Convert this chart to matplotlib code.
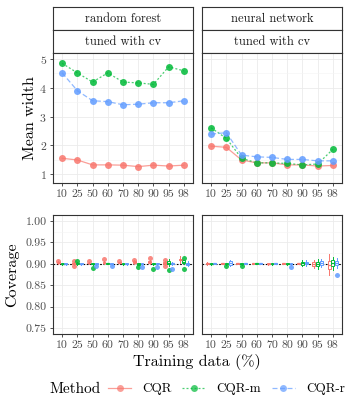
import matplotlib
matplotlib.use("Agg")
import matplotlib.pyplot as plt
from matplotlib.lines import Line2D
import numpy as np

plt.rcParams['font.family'] = ['cmr10', 'DejaVu Serif']
plt.rcParams['mathtext.fontset'] = 'cm'
plt.rcParams['axes.formatter.use_mathtext'] = True

train_pct = ["10", "25", "50", "60", "70", "80", "90", "95", "98"]
methods = ["CQR", "CQR-m", "CQR-r"]
models = ["random forest", "neural network"]
colors = ["#F8766D", "#00BA38", "#619CFF"]

# mean width, random forest
rf_width_cqr = [1.55, 1.49, 1.32, 1.32, 1.31, 1.26, 1.31, 1.28, 1.31]
rf_width_cqrm = [4.85, 4.52, 4.20, 4.52, 4.20, 4.17, 4.12, 4.73, 4.59]
rf_width_cqrr = [4.52, 3.90, 3.55, 3.52, 3.41, 3.43, 3.48, 3.48, 3.55]
# mean width, neural network
nn_width_cqr = [1.97, 1.93, 1.49, 1.39, 1.39, 1.32, 1.32, 1.28, 1.30]
nn_width_cqrm = [2.61, 2.24, 1.55, 1.39, 1.39, 1.37, 1.32, 1.35, 1.86]
nn_width_cqrr = [2.39, 2.44, 1.66, 1.60, 1.58, 1.51, 1.51, 1.46, 1.46]

# coverage box summaries: median, half box height, half whisker length, outliers
rf_cqr_med = [0.903, 0.901, 0.902, 0.903, 0.903, 0.904, 0.904, 0.902, 0.910]
rf_cqr_box = [0.001, 0.002, 0.001, 0.001, 0.001, 0.002, 0.002, 0.002, 0.002]
rf_cqr_whisk = [0.003, 0.004, 0.003, 0.003, 0.002, 0.004, 0.004, 0.004, 0.008]
rf_cqr_out = [[0.907], [0.907, 0.894], [0.906], [0.912], [0.906], [0.910],
              [0.914], [0.908, 0.896], []]
rf_cqrm_med = [0.900, 0.901, 0.900, 0.901, 0.900, 0.900, 0.900, 0.903, 0.905]
rf_cqrm_box = [0.001, 0.002, 0.001, 0.001, 0.001, 0.002, 0.001, 0.004, 0.003]
rf_cqrm_whisk = [0.002, 0.003, 0.002, 0.002, 0.003, 0.003, 0.002, 0.008, 0.005]
rf_cqrm_out = [[], [0.907], [0.890], [], [], [0.893], [0.889], [0.886],
               [0.913, 0.887]]
rf_cqrr_med = [0.900, 0.900, 0.900, 0.900, 0.900, 0.900, 0.900, 0.901, 0.900]
rf_cqrr_box = [0.001, 0.001, 0.001, 0.001, 0.001, 0.001, 0.001, 0.002, 0.003]
rf_cqrr_whisk = [0.002, 0.002, 0.002, 0.002, 0.002, 0.002, 0.002, 0.004, 0.006]
rf_cqrr_out = [[], [], [0.895], [0.895], [], [0.892], [0.892], [0.888], []]

nn_cqr_med = [0.901, 0.901, 0.901, 0.901, 0.900, 0.901, 0.901, 0.900, 0.898]
nn_cqr_box = [0.001, 0.001, 0.001, 0.001, 0.001, 0.001, 0.001, 0.0047, 0.009]
nn_cqr_whisk = [0.003, 0.002, 0.002, 0.002, 0.002, 0.002, 0.002, 0.0093, 0.024]
nn_cqr_out = [[], [], [], [], [], [], [], [], []]
nn_cqrm_med = [0.900, 0.900, 0.900, 0.901, 0.900, 0.900, 0.901, 0.900, 0.901]
nn_cqrm_box = [0.001, 0.001, 0.001, 0.001, 0.001, 0.001, 0.003, 0.0047, 0.007]
nn_cqrm_whisk = [0.002, 0.002, 0.002, 0.002, 0.002, 0.002, 0.007, 0.012, 0.016]
nn_cqrm_out = [[], [0.894], [0.894], [], [], [], [], [], []]
nn_cqrr_med = [0.901, 0.902, 0.901, 0.901, 0.901, 0.900, 0.902, 0.901, 0.902]
nn_cqrr_box = [0.001, 0.004, 0.001, 0.001, 0.001, 0.001, 0.002, 0.0047, 0.0047]
nn_cqrr_whisk = [0.002, 0.006, 0.002, 0.002, 0.002, 0.002, 0.007, 0.0093, 0.012]
nn_cqrr_out = [[], [], [], [], [], [0.892], [], [], [0.875]]

widths = [[rf_width_cqr, rf_width_cqrm, rf_width_cqrr],
          [nn_width_cqr, nn_width_cqrm, nn_width_cqrr]]
coverage = [
    [(rf_cqr_med, rf_cqr_box, rf_cqr_whisk, rf_cqr_out),
     (rf_cqrm_med, rf_cqrm_box, rf_cqrm_whisk, rf_cqrm_out),
     (rf_cqrr_med, rf_cqrr_box, rf_cqrr_whisk, rf_cqrr_out)],
    [(nn_cqr_med, nn_cqr_box, nn_cqr_whisk, nn_cqr_out),
     (nn_cqrm_med, nn_cqrm_box, nn_cqrm_whisk, nn_cqrm_out),
     (nn_cqrr_med, nn_cqrr_box, nn_cqrr_whisk, nn_cqrr_out)],
]

dashes = [(None, None), (1.6, 1.6), (4, 2)]
border = "#333333"
tick_col = "#4D4D4D"
fs_tick = 8.5

fig = plt.figure(figsize=(3.5, 4.0), dpi=100)
W, H = 350.0, 400.0


def box(x0, y0, x1, y1):
    return [x0 / W, 1 - y1 / H, (x1 - x0) / W, (y1 - y0) / H]


def style(ax, xpos):
    ax.set_xlim(-0.6, len(train_pct) - 0.4)
    ax.set_xticks(xpos)
    ax.set_xticklabels(train_pct)
    ax.grid(True, which='major', color="#EBEBEB", lw=0.6)
    ax.grid(True, which='minor', axis='y', color="#F4F4F4", lw=0.4)
    ax.set_axisbelow(True)
    for s in ax.spines.values():
        s.set_color(border)
        s.set_linewidth(0.8)
    ax.tick_params(which='major', length=2.5, width=0.6, color=border,
                   labelsize=fs_tick, labelcolor=tick_col, pad=2)
    ax.tick_params(which='minor', length=0)
    ax.tick_params(axis='x', which='minor', bottom=False)


xpos = np.arange(len(train_pct))
xs = [(53, 193), (202, 342)]

for j, model in enumerate(models):
    x0, x1 = xs[j]
    # strips
    for k, (sy0, sy1, lab) in enumerate([(7, 30, model), (30, 53, "tuned with cv")]):
        sax = fig.add_axes(box(x0, sy0, x1, sy1))
        sax.set_xticks([])
        sax.set_yticks([])
        for s in sax.spines.values():
            s.set_color(border)
            s.set_linewidth(0.8)
        sax.text(0.5, 0.5, lab, ha='center', va='center', fontsize=9,
                 color="#1A1A1A", transform=sax.transAxes)

    # mean width
    ax = fig.add_axes(box(x0, 53, x1, 183))
    for i in range(3):
        ax.plot(xpos, widths[j][i], color=colors[i], lw=0.9, alpha=0.7,
                dashes=dashes[i] if i else (), zorder=2)
        ax.plot(xpos, widths[j][i], 'o', color=colors[i], ms=5, alpha=0.85,
                mec='none', zorder=3)
    ax.set_ylim(0.69, 5.21)
    ax.set_yticks([1, 2, 3, 4, 5])
    ax.set_yticks([1.5, 2.5, 3.5, 4.5], minor=True)
    style(ax, xpos)
    if j == 1:
        ax.set_yticklabels([])
        ax.tick_params(axis='y', length=0)

    # coverage
    ax = fig.add_axes(box(x0, 215, x1, 334))
    ax.axhline(0.9, color='black', lw=0.8, ls=(0, (1.5, 1.5)), zorder=1)
    for i in range(3):
        med, half, whisk, outs = coverage[j][i]
        stats = []
        for m, b, w, o in zip(med, half, whisk, outs):
            stats.append(dict(med=m, q1=m - b, q3=m + b, whislo=m - w,
                              whishi=m + w, fliers=o))
        ax.bxp(stats, positions=xpos + (i - 1) * 0.25, widths=0.19,
               patch_artist=True, showfliers=True, manage_ticks=False,
               boxprops=dict(facecolor='white', edgecolor=colors[i], lw=0.7),
               medianprops=dict(color=colors[i], lw=0.9),
               whiskerprops=dict(color=colors[i], lw=0.7),
               capprops=dict(lw=0),
               flierprops=dict(marker='o', markerfacecolor=colors[i],
                               markeredgecolor='none', ms=3.6, alpha=0.85))
    ax.set_ylim(0.736, 1.014)
    ax.set_yticks([0.75, 0.80, 0.85, 0.90, 0.95, 1.00])
    ax.set_yticks([0.775, 0.825, 0.875, 0.925, 0.975], minor=True)
    style(ax, xpos)
    if j == 0:
        ax.set_yticklabels(["0.75", "0.80", "0.85", "0.90", "0.95", "1.00"])
    else:
        ax.set_yticklabels([])
        ax.tick_params(axis='y', length=0)

fig.text(30 / W, 1 - 118 / H, "Mean width", rotation=90, ha='center',
         va='center', fontsize=11.5)
fig.text(12 / W, 1 - 275 / H, "Coverage", rotation=90, ha='center',
         va='center', fontsize=11.5)
fig.text(197 / W, 1 - 362 / H, "Training data (%)", ha='center',
         va='center', fontsize=11.5)

fig.text(75 / W, 1 - 389 / H, "Method", ha='center', va='center',
         fontsize=11)
handles = [Line2D([0], [0], color=colors[i], lw=0.9, alpha=0.7,
                  dashes=dashes[i] if i else (), marker='o', ms=5,
                  mfc=colors[i], mec='none') for i in range(3)]
fig.legend(handles, methods, ncol=3, loc='center left',
           bbox_to_anchor=(108 / W, 1 - 389 / H), frameon=False,
           fontsize=9.5, handlelength=1.75, handletextpad=0.85,
           columnspacing=0.8, borderaxespad=0, borderpad=0)

fig.savefig("out.png", dpi=100)
